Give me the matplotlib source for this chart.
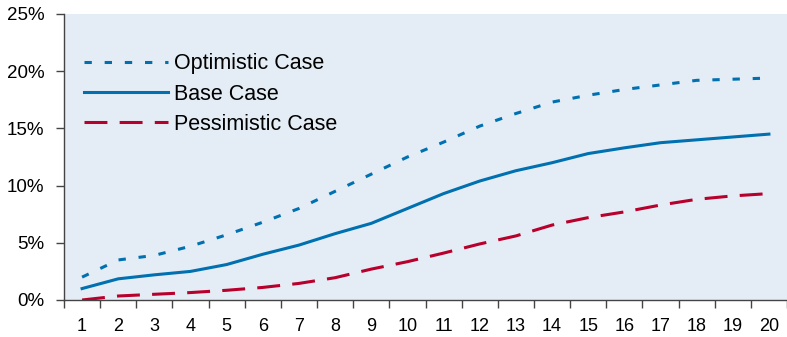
import matplotlib
matplotlib.use("Agg")
import matplotlib.pyplot as plt
from matplotlib.ticker import FuncFormatter, FixedLocator

years = list(range(1, 21))
optimistic = [2.0, 3.5, 3.9, 4.7, 5.7, 6.8, 8.0, 9.5, 11.0, 12.5, 13.8, 15.2, 16.3, 17.3, 17.9, 18.4, 18.8, 19.2, 19.3, 19.4]
base = [1.0, 1.85, 2.2, 2.5, 3.1, 4.0, 4.8, 5.8, 6.7, 8.0, 9.3, 10.4, 11.3, 12.0, 12.8, 13.3, 13.75, 14.0, 14.25, 14.5]
pessimistic = [0.0, 0.35, 0.5, 0.65, 0.85, 1.1, 1.45, 1.95, 2.7, 3.35, 4.1, 4.9, 5.6, 6.55, 7.2, 7.7, 8.3, 8.8, 9.1, 9.3]
labels = ["Optimistic Case", "Base Case", "Pessimistic Case"]

plt.rcParams['font.family'] = ['Liberation Sans', 'DejaVu Sans']

blue = "#0070B0"
red = "#B8002C"
bg = "#E4EDF5"

fig = plt.figure(figsize=(7.87, 3.37), dpi=100)
ax = fig.add_axes([64/787, 37/337, 1 - 64/787, (300-14)/337])
ax.set_facecolor(bg)

ax.plot(years, optimistic, color=blue, lw=2.2, linestyle=(0, (2.4, 4.2)), label=labels[0])
ax.plot(years, base, color=blue, lw=2.2, linestyle='-', label=labels[1])
ax.plot(years, pessimistic, color=red, lw=2.2, linestyle=(0, (7.5, 4.0)), label=labels[2])

ax.set_xlim(0.5, 20.5)
ax.set_ylim(0, 25)
ax.set_yticks([0, 5, 10, 15, 20, 25])
ax.yaxis.set_major_formatter(FuncFormatter(lambda v, p: f"{int(v)}%"))
ax.set_xticks(years)
ax.set_xticklabels([str(y) for y in years])
ax.xaxis.set_minor_locator(FixedLocator([y + 0.5 for y in range(0, 21)]))
ax.tick_params(axis='x', which='major', length=0, pad=13, labelsize=13)
ax.tick_params(axis='x', which='minor', length=6, width=1, color='#444444', direction='out')
ax.tick_params(axis='y', length=6, width=1, color='#444444', direction='out', pad=8, labelsize=13.5)

for s in ['top', 'right']:
    ax.spines[s].set_visible(False)
for s in ['left', 'bottom']:
    ax.spines[s].set_color('#444444')
    ax.spines[s].set_linewidth(1)

leg = ax.legend(loc='upper left', bbox_to_anchor=(0.016, 0.892), frameon=False, fontsize=15.5,
                handlelength=3.9, handletextpad=0.25, labelspacing=0.42, borderaxespad=0)

fig.savefig("out.png", dpi=100)
